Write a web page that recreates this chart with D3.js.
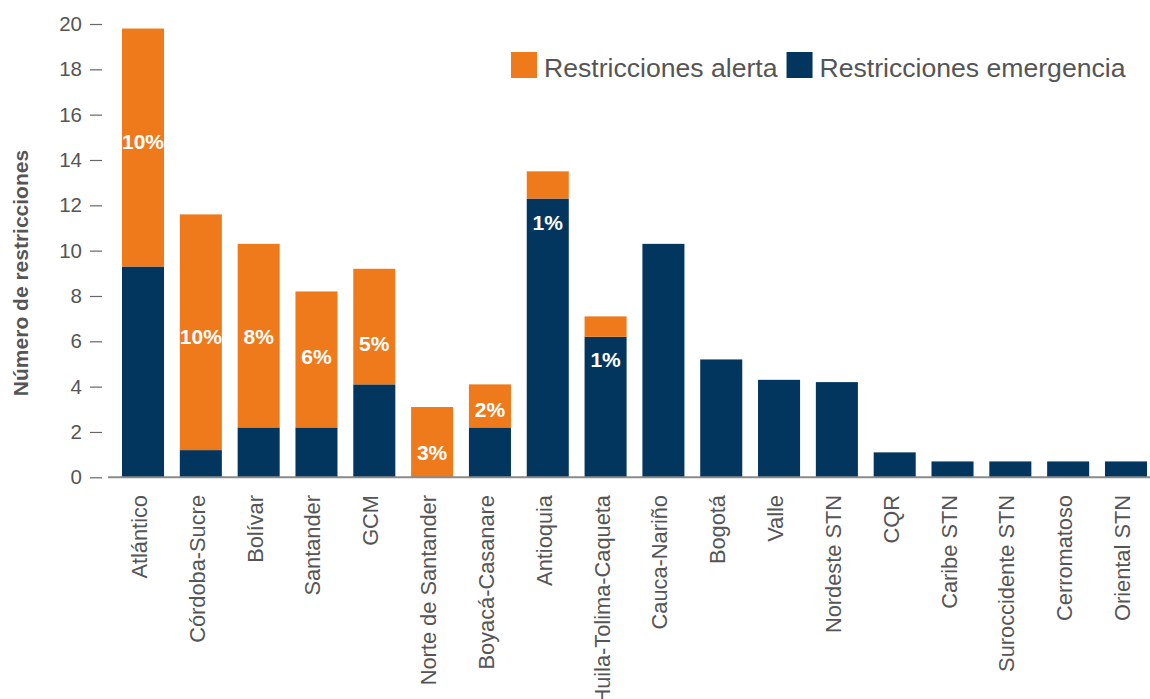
<!DOCTYPE html>
<html>
<head>
<meta charset="utf-8">
<script src="https://cdn.jsdelivr.net/npm/d3@7"></script>
<style>
  html, body { margin: 0; padding: 0; background: #fff; }
  svg { display: block; font-family: "Liberation Sans", Arial, sans-serif; }
</style>
</head>
<body>
<svg id="chart" width="1150" height="699"></svg>
<script>
// Restrictions per electrical area
const categories = [
  "Atlántico", "Córdoba-Sucre", "Bolívar", "Santander", "GCM",
  "Norte de Santander", "Boyacá-Casanare", "Antioquia", "Huila-Tolima-Caqueta",
  "Cauca-Nariño", "Bogotá", "Valle", "Nordeste STN", "CQR",
  "Caribe STN", "Suroccidente STN", "Cerromatoso", "Oriental STN"
];
const emergencia = [9.3, 1.2, 2.2, 2.2, 4.1, 0, 2.2, 12.3, 6.2, 10.3, 5.2, 4.3, 4.2, 1.1, 0.7, 0.7, 0.7, 0.7];
const alerta     = [10.5, 10.4, 8.1, 6.0, 5.1, 3.1, 1.9, 1.2, 0.9, 0, 0, 0, 0, 0, 0, 0, 0, 0];
const yTicks = [0, 2, 4, 6, 8, 10, 12, 14, 16, 18, 20];

// Percentage annotations: category, text, value level where the label sits
const pctLabels = [
  { cat: "Atlántico", text: "10%", at: 14.8 },
  { cat: "Córdoba-Sucre", text: "10%", at: 6.2 },
  { cat: "Bolívar", text: "8%", at: 6.2 },
  { cat: "Santander", text: "6%", at: 5.35 },
  { cat: "GCM", text: "5%", at: 5.9 },
  { cat: "Norte de Santander", text: "3%", at: 1.1 },
  { cat: "Boyacá-Casanare", text: "2%", at: 3.0 },
  { cat: "Antioquia", text: "1%", at: 11.25 },
  { cat: "Huila-Tolima-Caqueta", text: "1%", at: 5.2 }
];

const seriesNames = ["Restricciones alerta", "Restricciones emergencia"];
const colors = { "Restricciones alerta": "#EF7A1B", "Restricciones emergencia": "#03365E" };
const textColor = "#555555";

const svg = d3.select("#chart");

const x = d3.scaleBand().domain(categories).range([122, 1147]).paddingInner(0.273).paddingOuter(0);
const y = d3.scaleLinear().domain([0, 20]).range([477.3, 24]);

// Stacked data: emergency at the bottom, alert on top
const rows = categories.map((c, i) => ({ cat: c, emergencia: emergencia[i], alerta: alerta[i] }));
const stack = d3.stack().keys(["emergencia", "alerta"])(rows);
const keyColor = { emergencia: colors["Restricciones emergencia"], alerta: colors["Restricciones alerta"] };

svg.append("g").selectAll("g")
  .data(stack)
  .join("g")
  .attr("fill", d => keyColor[d.key])
  .selectAll("rect")
  .data(d => d.filter(s => s[1] - s[0] > 0))
  .join("rect")
  .attr("x", d => x(d.data.cat))
  .attr("width", x.bandwidth())
  .attr("y", d => y(d[1]))
  .attr("height", d => y(d[0]) - y(d[1]));

// Baseline
svg.append("line")
  .attr("x1", 108).attr("x2", 1150)
  .attr("y1", y(0)).attr("y2", y(0))
  .attr("stroke", "#8a8a8a").attr("stroke-width", 2);

// Y axis
const yAxis = svg.append("g")
  .attr("transform", "translate(102,0)")
  .call(d3.axisLeft(y).tickValues(yTicks).tickSize(12).tickPadding(8));
yAxis.select(".domain").remove();
yAxis.selectAll(".tick line").attr("stroke", "#666").attr("stroke-width", 1.2);
yAxis.selectAll(".tick text")
  .attr("fill", textColor)
  .style("font-size", "20.5px")
  .style("font-family", "'Liberation Sans', Arial, sans-serif");

// Y axis title
svg.append("text")
  .attr("transform", "translate(27.5,273) rotate(-90)")
  .attr("text-anchor", "middle")
  .attr("fill", textColor)
  .style("font-size", "21px")
  .style("font-weight", "bold")
  .text("Número de restricciones");

// X category labels (rotated)
svg.append("g").selectAll("text")
  .data(categories)
  .join("text")
  .attr("transform", d => `translate(${x(d) + x.bandwidth() / 2 + 4},495) rotate(-90)`)
  .attr("text-anchor", "end")
  .attr("fill", textColor)
  .style("font-size", "21.8px")
  .text(d => d);

// Percentage labels
svg.append("g").selectAll("text")
  .data(pctLabels)
  .join("text")
  .attr("x", d => x(d.cat) + x.bandwidth() / 2)
  .attr("y", d => y(d.at))
  .attr("dy", "0.36em")
  .attr("text-anchor", "middle")
  .attr("fill", "#ffffff")
  .style("font-size", "21px")
  .style("font-weight", "bold")
  .text(d => d.text);

// Legend
const legend = svg.append("g").attr("transform", "translate(511,52)");
let lx = 0;
seriesNames.forEach(name => {
  const item = legend.append("g").attr("transform", `translate(${lx},0)`);
  item.append("rect").attr("width", 26).attr("height", 26).attr("fill", colors[name]);
  const t = item.append("text")
    .attr("x", 33).attr("y", 25)
    .attr("fill", textColor)
    .style("font-size", "26.6px")
    .text(name);
  lx += 33 + t.node().getComputedTextLength() + 9;
});
</script>
</body>
</html>
